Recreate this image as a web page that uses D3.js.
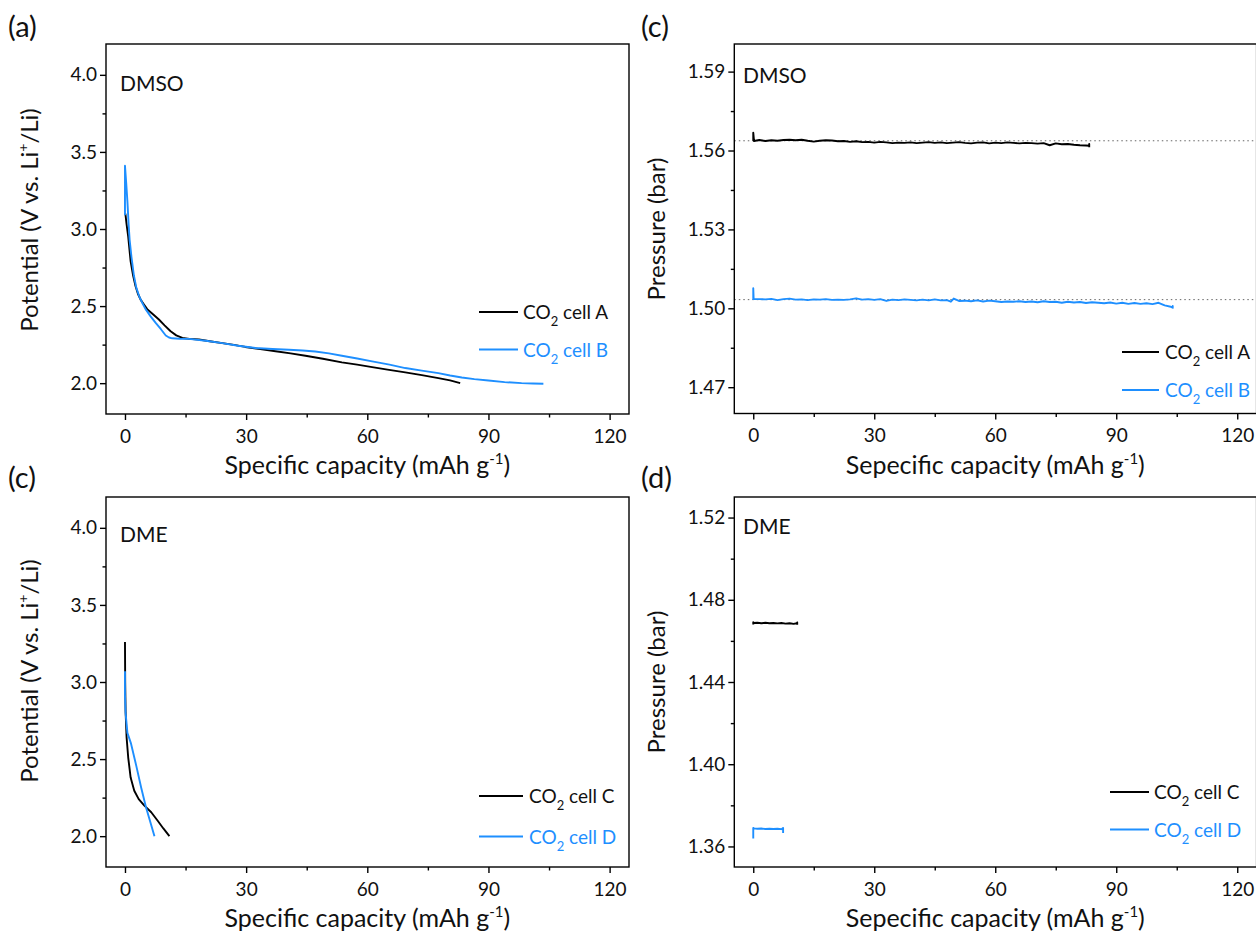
<!DOCTYPE html>
<html><head><meta charset="utf-8">
<script src="https://cdn.jsdelivr.net/npm/d3@7"></script>
<style>
body{margin:0;background:#fff}
svg{display:block}
text{font-family:Lato,"Open Sans",sans-serif;fill:#111}
</style>
</head><body>
<svg id="chart" width="1256" height="933"></svg>
<script>
// ---------------- DATA ----------------
const capacityTicks = [0, 30, 60, 90, 120];
const capacityMinorTicks = [15, 45, 75, 105];
const potentialTicks = [2.0, 2.5, 3.0, 3.5, 4.0];
const potentialMinorTicks = [2.25, 2.75, 3.25, 3.75];
const pressureTicksDMSO = [1.47, 1.50, 1.53, 1.56, 1.59];
const pressureMinorTicksDMSO = [1.485, 1.515, 1.545, 1.575];
const pressureTicksDME = [1.36, 1.40, 1.44, 1.48, 1.52];
const pressureMinorTicksDME = [1.38, 1.42, 1.46, 1.50];

const seriesNames = ["CO2 cell A", "CO2 cell B", "CO2 cell C", "CO2 cell D"];

// potential [capacity, V]
const potentialCellA = [[0.1,3.10],[0.4,3.03],[0.8,2.95],[1.4,2.79],[2.0,2.70],[2.6,2.63],[3.2,2.58],[3.9,2.54],[4.7,2.51],[5.5,2.48],[7.0,2.445],[8.4,2.413],[9.8,2.375],[11.3,2.337],[12.7,2.31],[14.2,2.293],[16.0,2.287],[18.3,2.283],[21.0,2.272],[24.1,2.26],[27.0,2.248],[29.8,2.235],[33.5,2.221],[37.3,2.207],[41.0,2.193],[44.7,2.178],[49.0,2.158],[53.7,2.135],[57.5,2.12],[61.2,2.104],[65.0,2.088],[69.4,2.07],[73.5,2.052],[77.6,2.033],[80.5,2.018],[83.0,2.0]];
const potentialCellB = [[0,3.09],[0,3.41],[0.3,3.30],[0.6,3.18],[0.9,3.03],[1.15,2.93],[1.6,2.82],[2.2,2.70],[2.8,2.62],[3.5,2.565],[4.3,2.52],[5.1,2.48],[6.3,2.435],[7.6,2.391],[8.9,2.35],[10.1,2.309],[10.9,2.296],[11.7,2.291],[13.5,2.288],[15.8,2.287],[20.0,2.275],[24.1,2.26],[28.0,2.243],[32.3,2.228],[36.5,2.222],[40.6,2.217],[44.0,2.212],[47.1,2.205],[50.5,2.193],[53.7,2.178],[57.5,2.16],[61.2,2.141],[65.5,2.12],[69.4,2.098],[73.5,2.081],[77.6,2.065],[80.5,2.05],[83.4,2.037],[86.5,2.026],[90.0,2.017],[94.0,2.007],[98.2,2.0],[101.0,1.998],[103.6,1.996]];
const potentialCellC = [[0,3.26],[0.05,3.0],[0.15,2.81],[0.4,2.64],[0.8,2.51],[1.4,2.38],[2.3,2.295],[3.4,2.24],[4.8,2.198],[6.5,2.155],[8.1,2.10],[9.5,2.05],[11.0,2.0]];
const potentialCellD = [[0,3.07],[0,2.92],[0.15,2.80],[0.6,2.67],[1.5,2.60],[2.8,2.456],[4.0,2.316],[5.2,2.187],[6.4,2.08],[7.3,2.0]];

// pressure [capacity, bar]
const pressureCellA = [[0,1.5637],[0,1.5668],[0.2,1.5636],[1.5,1.5640],[3,1.5636],[4.5,1.5639],[6,1.5637],[7.5,1.5640],[9,1.5641],[10.5,1.5639],[12,1.5641],[13.5,1.5637],[15,1.5634],[16.5,1.5637],[18,1.5639],[19.5,1.5638],[21,1.5635],[22.5,1.5636],[24,1.5633],[25.5,1.5635],[27,1.5632],[28.5,1.5633],[30,1.5630],[31.5,1.5633],[33,1.5631],[34.5,1.5628],[36,1.5630],[37.5,1.5629],[39,1.5631],[40.5,1.5628],[42,1.5630],[43.5,1.5632],[45,1.5629],[46.5,1.5631],[48,1.5628],[49.5,1.5630],[51,1.5632],[52.5,1.5629],[54,1.5627],[55.5,1.5630],[57,1.5631],[58.5,1.5627],[60,1.5630],[61.5,1.5628],[63,1.5631],[64.5,1.5629],[66,1.5627],[67.5,1.5629],[69,1.5628],[70.5,1.5626],[72,1.5628],[73.5,1.5620],[75,1.5627],[76.5,1.5624],[78,1.5625],[79.5,1.5622],[81,1.5620],[82.5,1.5619],[83.3,1.5618],[83.3,1.5625],[83.3,1.5612]];
const pressureCellB = [[0,1.5033],[0,1.5076],[0.1,1.5035],[1.5,1.5035],[3,1.5034],[4.5,1.5036],[6,1.5031],[7.5,1.5035],[9,1.5037],[10.5,1.5033],[12,1.5034],[13.5,1.5031],[15,1.5034],[16.5,1.5033],[18,1.5035],[19.5,1.5032],[21,1.5033],[22.5,1.5032],[24,1.5034],[25.5,1.5038],[27,1.5033],[28.5,1.5035],[30,1.5032],[31.5,1.5035],[33,1.5028],[34.5,1.5033],[36,1.5031],[37.5,1.5034],[39,1.5032],[40.5,1.5030],[42,1.5033],[43.5,1.5030],[45,1.5034],[46.5,1.5030],[48,1.5031],[49,1.5025],[49.7,1.5037],[51,1.5028],[52.5,1.5029],[54,1.5027],[55.5,1.5030],[57,1.5026],[58.5,1.5029],[60,1.5027],[61.5,1.5024],[63,1.5026],[64.5,1.5025],[66,1.5027],[67.5,1.5024],[69,1.5026],[70.5,1.5023],[72,1.5027],[73.5,1.5024],[75,1.5025],[76.5,1.5021],[78,1.5025],[79.5,1.5022],[81,1.5024],[82.5,1.5020],[84,1.5023],[85.5,1.5021],[87,1.5019],[88.5,1.5022],[90,1.5018],[91.5,1.5021],[93,1.5017],[94.5,1.5020],[96,1.5017],[97.5,1.5019],[99,1.5016],[100.5,1.5021],[102,1.5011],[103.5,1.5006],[104,1.5002],[104,1.5009],[104,1.4999]];
const pressureCellC = [[0,1.4680],[0,1.4691],[0.1,1.4687],[1,1.4688],[2,1.4686],[3,1.4688],[4,1.4686],[5,1.4687],[6,1.4685],[7,1.4687],[8,1.4684],[9,1.4686],[10,1.4683],[10.8,1.4686],[10.9,1.4690],[10.9,1.4679]];
const pressureCellD = [[0,1.3639],[0,1.3690],[0.2,1.3688],[1,1.3686],[2,1.3687],[3,1.3685],[4,1.3686],[5,1.3685],[6,1.3686],[7,1.3684],[7.3,1.3688],[7.4,1.3690],[7.4,1.3665]];

const initialPressureDMSO = [1.5637, 1.5033];

// ---------------- LAYOUT ----------------
const BLACK = "#000000", BLUE = "#1E8FFF";
const svg = d3.select("#chart");
svg.append("rect").attr("width",1256).attr("height",933).attr("fill","#fff");
const xDomain = [-4.7, 124.8];

const panels = [
  {label:"(a)", lx:8, ly:37, solvent:"DMSO", sx:120, sy:91, l:106, t:44, r:629, b:414,
   yDomain:[1.8,4.2], yTicks:potentialTicks, yMinor:potentialMinorTicks, yFmt:".1f",
   ytitle:"potential", ytx:38, yty:220, xtitle:"Specific capacity (mAh g",
   series:[{d:potentialCellA,c:BLACK},{d:potentialCellB,c:BLUE}],
   legend:{x1:479,x2:518,tx:523,ys:[312,349.5],names:[seriesNames[0],seriesNames[1]]}},
  {label:"(c)", lx:641, ly:37, solvent:"DMSO", sx:743, sy:83, l:734.3, t:44, r:1256.6, b:413.5,
   yDomain:[1.46,1.6005], yTicks:pressureTicksDMSO, yMinor:pressureMinorTicksDMSO, yFmt:".2f",
   ytitle:"pressure", ytx:665, yty:229, xtitle:"Sepecific capacity (mAh g",
   refs:initialPressureDMSO,
   series:[{d:pressureCellA,c:BLACK},{d:pressureCellB,c:BLUE}],
   legend:{x1:1122,x2:1159,tx:1165,ys:[352,390],names:[seriesNames[0],seriesNames[1]]}},
  {label:"(c)", lx:8, ly:488, solvent:"DME", sx:120, sy:542, l:106, t:497, r:629, b:867,
   yDomain:[1.8,4.2], yTicks:potentialTicks, yMinor:potentialMinorTicks, yFmt:".1f",
   ytitle:"potential", ytx:38, yty:671, xtitle:"Specific capacity (mAh g",
   series:[{d:potentialCellC,c:BLACK},{d:potentialCellD,c:BLUE}],
   legend:{x1:479,x2:523,tx:529,ys:[796,836.5],names:[seriesNames[2],seriesNames[3]]}},
  {label:"(d)", lx:641, ly:488, solvent:"DME", sx:743, sy:534, l:734.3, t:497, r:1256.6, b:867,
   yDomain:[1.35,1.53], yTicks:pressureTicksDME, yMinor:pressureMinorTicksDME, yFmt:".2f",
   ytitle:"pressure", ytx:665, yty:682, xtitle:"Sepecific capacity (mAh g",
   series:[{d:pressureCellC,c:BLACK},{d:pressureCellD,c:BLUE}],
   legend:{x1:1110,x2:1149,tx:1154,ys:[792,829.5],names:[seriesNames[2],seriesNames[3]]}}
];

function styleAxis(sel){
  sel.select(".domain").remove();
  sel.selectAll(".tick line").attr("stroke","#000").attr("stroke-width",1.4);
  sel.selectAll(".tick text").attr("font-size",19).attr("fill","#111")
     .style("font-family","Lato, 'Open Sans', sans-serif");
}

panels.forEach(p=>{
  const g = svg.append("g");
  const x = d3.scaleLinear().domain(xDomain).range([p.l,p.r]);
  const y = d3.scaleLinear().domain(p.yDomain).range([p.b,p.t]);

  if (p.refs) {
    g.selectAll("line.ref").data(p.refs).enter().append("line")
      .attr("x1",p.l).attr("x2",p.r).attr("y1",d=>y(d)).attr("y2",d=>y(d))
      .attr("stroke","#666").attr("stroke-width",1).attr("stroke-dasharray","1.5,3");
  }

  g.append("g").attr("transform",`translate(0,${p.b})`)
    .call(d3.axisBottom(x).tickValues(capacityTicks).tickSize(6).tickPadding(9.5).tickFormat(d3.format("d")))
    .call(styleAxis);
  g.append("g").attr("transform",`translate(0,${p.b})`)
    .call(d3.axisBottom(x).tickValues(capacityMinorTicks).tickSize(3.5).tickFormat(""))
    .call(styleAxis);
  g.append("g").attr("transform",`translate(${p.l},0)`)
    .call(d3.axisLeft(y).tickValues(p.yTicks).tickSize(6).tickPadding(3).tickFormat(d3.format(p.yFmt)))
    .call(styleAxis);
  g.append("g").attr("transform",`translate(${p.l},0)`)
    .call(d3.axisLeft(y).tickValues(p.yMinor).tickSize(3.5).tickFormat(""))
    .call(styleAxis);

  const line = d3.line().x(d=>x(d[0])).y(d=>y(d[1]));
  const clipId = "clip"+Math.round(p.l)+"_"+Math.round(p.t);
  svg.append("clipPath").attr("id",clipId).append("rect")
    .attr("x",p.l).attr("y",p.t).attr("width",p.r-p.l).attr("height",p.b-p.t);
  p.series.forEach(s=>{
    g.append("path").datum(s.d).attr("d",line).attr("fill","none")
      .attr("stroke",s.c).attr("stroke-width",1.9).attr("stroke-linejoin","round")
      .attr("clip-path",`url(#${clipId})`);
  });

  g.append("rect").attr("x",p.l).attr("y",p.t).attr("width",p.r-p.l).attr("height",p.b-p.t)
    .attr("fill","none").attr("stroke","#000").attr("stroke-width",1.4);

  g.append("text").attr("x",p.lx).attr("y",p.ly).attr("font-size",29).text(p.label);
  g.append("text").attr("x",p.sx).attr("y",p.sy).attr("font-size",21).text(p.solvent);

  const cx = x(60);
  const xt = g.append("text").attr("x",cx).attr("y",p.b+60).attr("font-size",25).attr("text-anchor","middle");
  xt.append("tspan").text(p.xtitle);
  xt.append("tspan").attr("font-size",15).attr("dy",-10).text("-1");
  xt.append("tspan").attr("dy",10).text(")");

  const yt = g.append("text").attr("transform",`translate(${p.ytx},${p.yty}) rotate(-90)`)
    .attr("font-size",24).attr("text-anchor","middle");
  if (p.ytitle==="potential"){
    yt.append("tspan").text("Potential (V vs. Li");
    yt.append("tspan").attr("font-size",14).attr("dy",-10).text("+");
    yt.append("tspan").attr("dy",10).text("/Li)");
  } else {
    yt.text("Pressure (bar)");
  }

  p.legend.ys.forEach((ly,i)=>{
    const col = p.series[i].c;
    g.append("line").attr("x1",p.legend.x1).attr("x2",p.legend.x2).attr("y1",ly).attr("y2",ly)
      .attr("stroke",col).attr("stroke-width",1.9);
    const name = p.legend.names[i];
    const t = g.append("text").attr("x",p.legend.tx).attr("y",ly+7).attr("font-size",19)
      .style("fill", col===BLACK ? "#111" : BLUE);
    t.append("tspan").text(name.slice(0,2));
    t.append("tspan").attr("font-size",13).attr("dy",7).text(name.slice(2,3));
    t.append("tspan").attr("dy",-7).text(name.slice(3));
  });
});
</script>
</body></html>
